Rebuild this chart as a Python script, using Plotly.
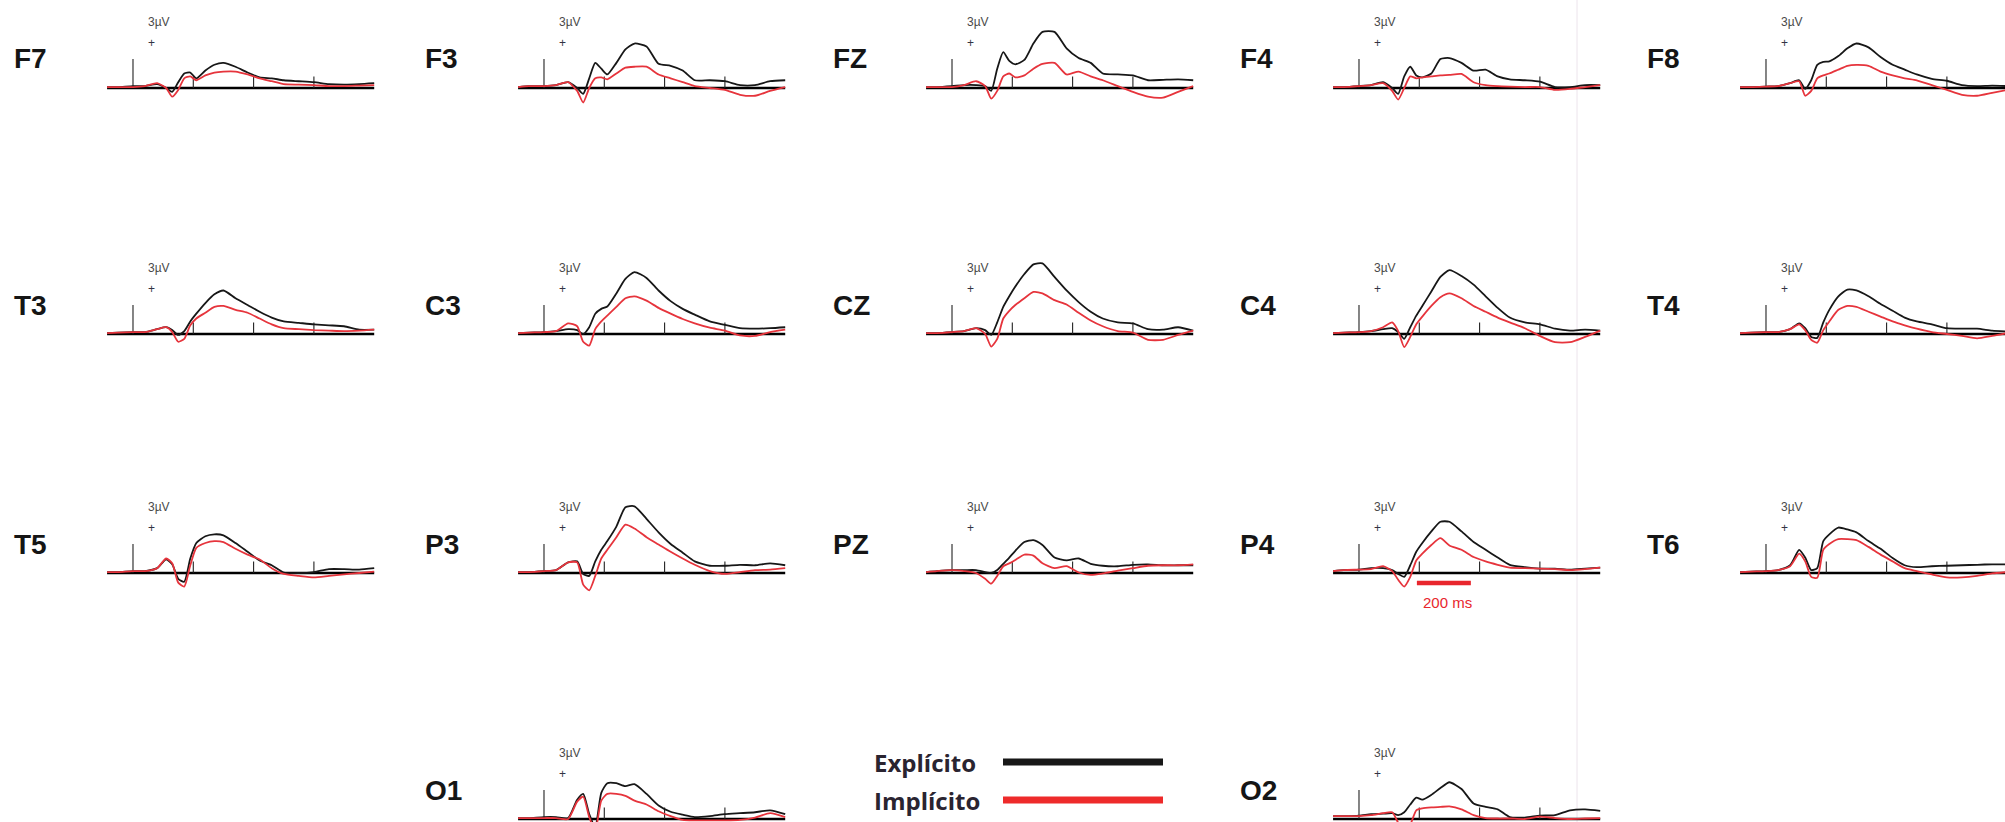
import plotly.graph_objects as go

# ---------------- data ----------------
times = [-86, -50, 0, 40, 80, 110, 130, 150, 170, 190, 210, 240, 270, 300,
         340, 380, 420, 460, 500, 550, 600, 650, 700, 750, 800]

electrodes = ["F7", "F3", "FZ", "F4", "F8",
              "T3", "C3", "CZ", "C4", "T4",
              "T5", "P3", "PZ", "P4", "T6",
              "O1", "O2"]
panel_row = [0, 0, 0, 0, 0, 1, 1, 1, 1, 1, 2, 2, 2, 2, 2, 3, 3]
panel_col = [0, 1, 2, 3, 4, 0, 1, 2, 3, 4, 0, 1, 2, 3, 4, 1, 3]

explicito_F7 = [0.1,0.1,0.2,0.2,0.4,0.0,-0.4,0.6,1.5,1.6,1.0,1.8,2.4,2.6,2.2,1.6,1.1,1.0,0.8,0.7,0.6,0.4,0.35,0.4,0.5]
implicito_F7 = [0.1,0.1,0.1,0.2,0.5,0.0,-0.9,-0.2,1.0,1.2,0.8,1.3,1.6,1.7,1.7,1.4,1.0,0.7,0.4,0.35,0.3,0.2,0.2,0.25,0.3]
explicito_F3 = [0.1,0.2,0.2,0.3,0.6,0.0,-0.6,1.0,2.6,2.0,1.4,2.6,4.0,4.6,4.3,2.5,2.3,1.8,0.8,0.8,0.7,0.3,0.3,0.7,0.8]
implicito_F3 = [0.1,0.2,0.2,0.3,0.6,-0.3,-1.5,0.0,1.0,1.1,0.9,1.5,2.1,2.2,2.2,1.4,1.0,0.6,0.2,0.0,-0.2,-0.7,-0.8,-0.3,0.1]
explicito_FZ = [0.1,0.1,0.2,0.3,0.3,0.2,-0.3,2.0,3.7,2.8,2.45,2.9,4.6,5.8,5.8,4.1,3.1,2.6,1.5,1.4,1.3,0.8,0.85,0.9,0.8]
implicito_FZ = [0.1,0.1,0.1,0.3,0.7,0.2,-1.1,-0.3,1.2,1.5,1.1,1.3,2.0,2.5,2.6,1.4,1.7,1.2,0.8,0.2,-0.4,-0.9,-1.0,-0.4,0.2]
explicito_F4 = [0.1,0.1,0.2,0.3,0.6,0.0,-0.6,1.2,2.2,1.3,1.1,1.5,3.0,3.1,2.6,1.8,1.9,1.2,0.9,0.8,0.65,0.1,0.1,0.3,0.3]
implicito_F4 = [0.1,0.1,0.2,0.3,0.5,-0.3,-1.2,0.0,1.2,1.0,1.1,1.2,1.3,1.35,1.45,0.6,0.3,0.2,0.15,0.1,0.1,-0.2,-0.1,0.1,0.3]
explicito_F8 = [0.1,0.1,0.15,0.2,0.5,0.8,-0.1,0.8,2.4,2.7,2.75,3.3,4.1,4.6,4.2,3.2,2.4,1.9,1.4,0.95,0.75,0.3,0.2,0.25,0.2]
implicito_F8 = [0.1,0.1,0.15,0.2,0.5,0.7,-0.8,-0.3,1.0,1.3,1.5,1.9,2.3,2.4,2.3,1.7,1.3,1.0,0.8,0.3,-0.2,-0.7,-0.8,-0.5,-0.2]
explicito_T3 = [0.1,0.15,0.2,0.2,0.5,0.7,0.4,-0.1,0.3,1.3,2.1,3.2,4.1,4.5,3.7,3.0,2.3,1.7,1.3,1.15,1.0,0.9,0.8,0.45,0.45]
implicito_T3 = [0.1,0.15,0.2,0.2,0.5,0.7,0.2,-0.8,-0.5,0.9,1.6,2.2,2.8,2.9,2.5,2.2,1.6,1.0,0.6,0.5,0.4,0.35,0.3,0.35,0.45]
explicito_C3 = [0.1,0.15,0.2,0.3,0.5,0.4,0.0,0.7,2.1,2.6,2.85,4.2,5.7,6.4,5.8,4.5,3.4,2.6,2.0,1.3,0.95,0.6,0.55,0.6,0.7]
implicito_C3 = [0.1,0.15,0.2,0.3,1.1,0.8,-0.8,-1.2,0.5,1.3,1.9,2.8,3.7,3.9,3.45,2.7,2.1,1.55,1.1,0.65,0.35,-0.15,-0.2,0.2,0.45]
explicito_CZ = [0.1,0.1,0.2,0.3,0.6,0.4,-0.1,1.2,2.8,3.9,4.9,6.2,7.2,7.3,5.9,4.5,3.3,2.3,1.6,1.2,1.1,0.5,0.45,0.7,0.35]
implicito_CZ = [0.1,0.1,0.2,0.3,0.6,0.0,-1.3,-0.5,1.6,2.4,3.0,3.7,4.35,4.2,3.5,3.05,2.2,1.4,0.8,0.3,0.15,-0.6,-0.6,-0.1,0.35]
explicito_C4 = [0.1,0.15,0.2,0.3,0.5,0.6,0.2,-0.5,0.7,1.9,2.9,4.4,5.9,6.6,6.0,5.1,3.9,2.7,1.7,1.2,1.0,0.55,0.35,0.45,0.35]
implicito_C4 = [0.1,0.15,0.2,0.3,0.7,1.2,0.3,-1.35,-0.3,1.0,1.8,2.9,3.8,4.2,3.7,2.9,2.3,1.7,1.2,0.6,-0.2,-0.85,-0.85,-0.3,0.35]
explicito_T4 = [0.1,0.15,0.2,0.2,0.5,1.1,0.6,-0.3,-0.4,1.2,2.5,3.9,4.6,4.5,3.9,3.1,2.4,1.7,1.3,1.0,0.6,0.55,0.55,0.35,0.25]
implicito_T4 = [0.1,0.15,0.2,0.2,0.5,1.0,0.4,-0.6,-0.9,0.4,1.3,2.5,2.9,2.8,2.3,1.8,1.3,0.9,0.55,0.2,0.0,-0.2,-0.45,-0.2,0.1]
explicito_T5 = [0.1,0.1,0.2,0.2,0.5,1.4,0.9,-0.6,-0.9,1.5,3.1,3.8,4.0,3.9,3.1,2.2,1.3,0.8,0.05,0.0,0.1,0.4,0.4,0.35,0.5]
implicito_T5 = [0.1,0.1,0.2,0.2,0.5,1.5,1.0,-1.0,-1.4,0.8,2.6,3.1,3.3,3.2,2.5,1.9,1.4,0.5,-0.1,-0.3,-0.45,-0.3,-0.15,0.0,0.15]
explicito_P3 = [0.1,0.1,0.2,0.3,1.1,1.2,-0.1,-0.3,1.2,2.4,3.3,4.8,6.8,6.9,5.6,4.2,3.0,2.1,1.2,0.75,0.75,0.85,0.8,1.0,0.8]
implicito_P3 = [0.1,0.1,0.2,0.3,1.1,1.1,-1.2,-1.8,-0.3,1.5,2.4,3.7,5.0,4.6,3.7,2.95,2.2,1.5,0.85,0.2,-0.1,0.1,0.3,0.35,0.5]
explicito_PZ = [0.1,0.2,0.3,0.3,0.3,0.1,0.0,0.3,0.95,1.6,2.3,3.2,3.4,2.9,1.6,1.3,1.5,0.95,0.75,0.7,0.85,0.9,0.8,0.8,0.8]
implicito_PZ = [0.1,0.2,0.3,0.2,0.0,-0.6,-1.1,-0.3,0.7,1.0,1.35,1.9,1.8,1.0,0.5,0.7,0.05,-0.2,-0.05,0.25,0.5,0.75,0.8,0.8,0.9]
explicito_P4 = [0.2,0.3,0.35,0.5,0.5,0.3,-0.1,-0.4,0.8,2.2,3.1,4.3,5.3,5.3,4.3,3.2,2.4,1.6,0.85,0.6,0.45,0.45,0.35,0.45,0.55]
implicito_P4 = [0.2,0.3,0.35,0.4,0.7,0.2,-0.7,-1.4,-0.4,1.3,2.0,2.9,3.6,2.85,2.4,1.65,1.2,0.85,0.55,0.5,0.45,0.4,0.3,0.4,0.55]
explicito_T6 = [0.1,0.15,0.2,0.3,0.8,2.4,1.6,0.3,0.5,3.3,4.0,4.7,4.5,4.2,3.3,2.5,1.55,0.8,0.6,0.7,0.75,0.8,0.85,0.9,0.9]
implicito_T6 = [0.1,0.15,0.2,0.3,0.7,2.0,1.2,-0.4,-0.5,2.4,3.0,3.5,3.5,3.4,2.7,1.9,1.2,0.5,0.2,-0.15,-0.45,-0.45,-0.3,-0.05,0.1]
explicito_O1 = [0.1,0.1,0.2,0.2,0.1,2.0,2.6,0.5,-0.8,2.7,3.7,3.7,3.4,3.6,2.6,1.4,0.75,0.45,0.2,0.3,0.5,0.6,0.7,0.9,0.5]
implicito_O1 = [0.1,0.1,0.1,0.1,0.0,1.8,2.3,0.2,-1.2,1.9,2.6,2.6,2.4,1.9,1.5,0.8,0.3,-0.1,-0.15,-0.15,-0.15,-0.1,0.15,0.6,0.2]
explicito_O2 = [0.3,0.3,0.35,0.5,0.55,0.6,0.4,0.7,1.5,2.2,2.0,2.5,3.2,3.8,3.1,1.6,1.25,1.0,0.2,0.15,0.35,0.4,0.9,1.0,0.85]
implicito_O2 = [0.3,0.3,0.3,0.4,0.6,0.7,-0.4,-1.4,-0.6,0.9,1.1,1.2,1.25,1.3,1.0,0.4,0.1,0.05,0.05,0.0,0.25,0.1,0.0,0.05,0.1]

tick_times = [200, 400, 600]     # ms
tick_height_uv = 1.2
calib_uv = 3                     # onset marker height (3 µV)
axis_span_ms = [-86, 800]
scale_bar_ms = [192, 371]        # "200 ms" bar drawn in P4
scale_bar_panel = "P4"
legend_labels = ["Explícito", "Implícito"]

series = {}
g = globals()
for e in electrodes:
    series[e] = (g["explicito_" + e], g["implicito_" + e])

# ---------------- layout geometry (pixels) ----------------
W, H = 2005, 822
col_onset_px = [133, 544, 952, 1359, 1766]
row_base_px = [88, 334, 573, 819]
PX_PER_MS = 0.3015
PX_PER_UV = 9.67
T_LO, T_HI = -130, 830

BLACK = "#171717"
RED = "#e6343c"

fig = go.Figure()
annotations = []
shapes = []

for i, (e, r, c) in enumerate(zip(electrodes, panel_row, panel_col), start=1):
    onset = col_onset_px[c]
    base = row_base_px[r]
    xa = "x" if i == 1 else f"x{i}"
    ya = "y" if i == 1 else f"y{i}"
    xk = "xaxis" if i == 1 else f"xaxis{i}"
    yk = "yaxis" if i == 1 else f"yaxis{i}"

    x0 = max(0.0, onset + T_LO * PX_PER_MS)
    x1 = min(float(W), onset + T_HI * PX_PER_MS)
    ytop = max(0.0, base - 85)
    ybot = min(float(H), base + 45)
    xr = [(x0 - onset) / PX_PER_MS, (x1 - onset) / PX_PER_MS]
    yr = [(base - ybot) / PX_PER_UV, (base - ytop) / PX_PER_UV]

    fig.layout[xk] = dict(domain=[x0 / W, x1 / W], range=xr, visible=False,
                          anchor=ya, fixedrange=True)
    fig.layout[yk] = dict(domain=[1 - ybot / H, 1 - ytop / H], range=yr,
                          visible=False, anchor=xa, fixedrange=True)

    # baseline
    fig.add_trace(go.Scatter(x=axis_span_ms, y=[0, 0], mode="lines",
                             line=dict(color="#000000", width=2.4),
                             xaxis=xa, yaxis=ya, showlegend=False, hoverinfo="skip"))
    # onset marker and time ticks
    tx, ty = [0, 0, None], [0, calib_uv, None]
    for t in tick_times:
        tx += [t, t, None]
        ty += [0, tick_height_uv, None]
    fig.add_trace(go.Scatter(x=tx, y=ty, mode="lines",
                             line=dict(color="#222222", width=1.1),
                             xaxis=xa, yaxis=ya, showlegend=False, hoverinfo="skip"))
    exp_v, imp_v = series[e]
    fig.add_trace(go.Scatter(x=times, y=exp_v, mode="lines",
                             line=dict(color=BLACK, width=1.8, shape="spline", smoothing=0.6),
                             xaxis=xa, yaxis=ya, showlegend=False, name=legend_labels[0]))
    fig.add_trace(go.Scatter(x=times, y=imp_v, mode="lines",
                             line=dict(color=RED, width=1.8, shape="spline", smoothing=0.6),
                             xaxis=xa, yaxis=ya, showlegend=False, name=legend_labels[1]))

    # calibration label
    annotations.append(dict(x=86, y=6.8, xref=xa, yref=ya, text="3µV", showarrow=False,
                            font=dict(family="Liberation Sans, Arial", size=12, color="#4a4a4a")))
    annotations.append(dict(x=63, y=4.65, xref=xa, yref=ya, text="+", showarrow=False,
                            font=dict(family="Liberation Sans, Arial", size=12, color="#333344")))
    # electrode name
    annotations.append(dict(x=(onset - 121) / W, y=1 - (base - 29) / H, xref="paper", yref="paper",
                            xanchor="left", yanchor="middle", text=f"<b>{e}</b>", showarrow=False,
                            font=dict(family="Liberation Sans, Arial", size=28, color="#151515")))

    if e == scale_bar_panel:
        fig.add_trace(go.Scatter(x=scale_bar_ms, y=[-1.03, -1.03], mode="lines",
                                 line=dict(color="#e8262d", width=4.5),
                                 xaxis=xa, yaxis=ya, showlegend=False, hoverinfo="skip"))
        annotations.append(dict(x=sum(scale_bar_ms) / 2 + 12, y=-3.1, xref=xa, yref=ya,
                                text="200 ms", showarrow=False,
                                font=dict(family="Liberation Sans Narrow, Liberation Sans, Arial",
                                          size=15, color="#e8262d")))

# faint vertical seam line
shapes.append(dict(type="line", xref="paper", yref="paper", x0=1577 / W, x1=1577 / W,
                   y0=0, y1=1, line=dict(color="#ece4ec", width=1), layer="below"))

# custom legend
for lbl, col, ypx in zip(legend_labels, [BLACK, "#ee2a2a"], [762, 800]):
    annotations.append(dict(x=872 / W, y=1 - ypx / H, xref="paper", yref="paper",
                            xanchor="left", yanchor="middle", text=f"<b>{lbl}</b>",
                            showarrow=False,
                            font=dict(family="Open Sans, Lato", size=24, color="#2a2430")))
    shapes.append(dict(type="line", xref="paper", yref="paper",
                       x0=1003 / W, x1=1163 / W, y0=1 - ypx / H, y1=1 - ypx / H,
                       line=dict(color=col, width=7)))

fig.update_layout(width=W, height=H, margin=dict(l=0, r=0, t=0, b=0),
                  paper_bgcolor="white", plot_bgcolor="rgba(0,0,0,0)",
                  annotations=annotations, shapes=shapes, showlegend=False)

fig.write_html("out.html", config={"displayModeBar": False},
               post_script="document.body.style.margin='0';document.body.style.overflow='hidden';")
